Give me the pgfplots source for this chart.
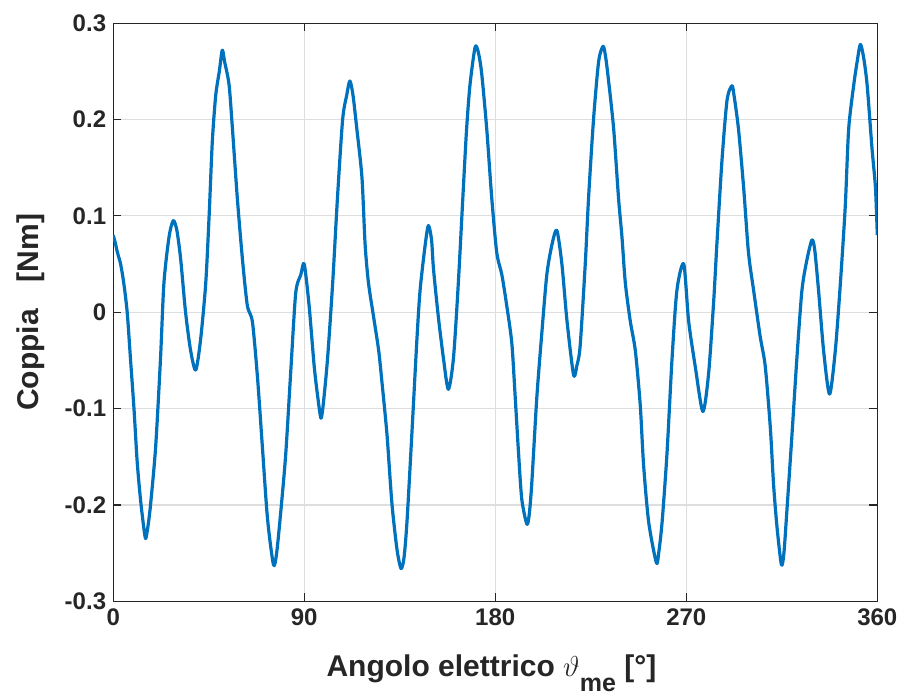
\documentclass[border=0pt]{standalone}
\usepackage{fontspec}
\setmainfont{Liberation Sans}
\usepackage{pgfplots}
\pgfplotsset{compat=1.18}
\definecolor{mblue}{rgb}{0,0.447,0.741}
\definecolor{mtext}{rgb}{0.15,0.15,0.15}
\definecolor{mgrid}{rgb}{0.87,0.87,0.87}
\begin{document}
\begin{tikzpicture}
\begin{axis}[
  width=382pt, height=289pt, scale only axis,
  xmin=0, xmax=360, ymin=-0.3, ymax=0.3,
  xtick={0,90,180,270,360},
  ytick={-0.3,-0.2,-0.1,0,0.1,0.2,0.3},
  yticklabels={-0.3,-0.2,-0.1,0,0.1,0.2,0.3},
  xticklabels={0,90,180,270,360},
  grid=major,
  major grid style={mgrid, line width=0.6pt},
  axis line style={mtext, line width=0.6pt},
  tick style={mtext, line width=0.6pt},
  tick align=inside,
  major tick length=4pt,
  tick label style={font=\fontsize{12}{14}\selectfont\bfseries, text=mtext},
  /pgf/number format/assume math mode=true,
  xlabel={Angolo elettrico $\vartheta$\raisebox{-0.5em}{\fontsize{12.5}{14}\selectfont\bfseries me} [°]},
  ylabel={Coppia\hspace{0.9em}[Nm]},
  xlabel style={font=\fontsize{15}{18}\selectfont\bfseries, text=mtext, at={(axis description cs:0.495,-0.125)}, anchor=center},
  ylabel style={font=\fontsize{15}{18}\selectfont\bfseries, text=mtext, at={(axis description cs:-0.108,0.5)}, anchor=center, rotate=0},
]
\addplot[mblue, line width=1.6pt, line join=round, smooth, tension=0.45] table {
x y
0 0.08
1 0.072
2 0.062
3.5 0.05
5 0.03
6.6 0.0
8.2 -0.05
9.8 -0.10
11.3 -0.155
12.9 -0.195
14.5 -0.225
15.3 -0.235
16.2 -0.225
17.6 -0.20
20 -0.14
22.3 -0.048
23.9 0.03
26.3 0.078
28.3 0.095
30 0.085
31.8 0.055
34.1 0.0
36.5 -0.04
38.9 -0.06
41.2 -0.028
43.6 0.03
45.2 0.10
46.7 0.177
48.3 0.225
50 0.25
51.4 0.272
52.5 0.26
54.6 0.236
56.2 0.19
58.5 0.118
60.9 0.055
63.2 0.007
65.6 -0.01
68 -0.068
70.3 -0.14
72.7 -0.214
75.5 -0.262
77 -0.25
79 -0.206
81.3 -0.147
83.7 -0.06
86 0.02
88.4 0.039
90 0.05
92.3 0.007
94.7 -0.056
96.5 -0.09
97.9 -0.11
99 -0.095
101 -0.048
103.4 0.03
105.7 0.12
108.1 0.2
110 0.225
111.5 0.24
113 0.225
114.8 0.19
117.2 0.14
118.7 0.07
120.3 0.03
122.7 -0.005
125.1 -0.04
126.6 -0.072
129 -0.127
131.3 -0.198
133.7 -0.246
135.6 -0.266
137 -0.255
138.4 -0.218
140.7 -0.127
143.1 -0.028
144.6 0.023
147 0.07
148.5 0.09
150 0.075
150.9 0.045
153.2 -0.005
155.6 -0.048
157.9 -0.08
160.3 -0.048
162.6 0.03
165 0.13
166.5 0.19
168.1 0.236
170.5 0.275
172 0.27
173.6 0.248
176 0.19
178.3 0.12
180.7 0.062
183.1 0.039
185.4 0.007
187.8 -0.032
189.4 -0.088
191 -0.147
192.5 -0.194
194.9 -0.22
196 -0.21
197.2 -0.178
199.6 -0.088
202 -0.02
204.3 0.039
206.7 0.07
209 0.085
211.4 0.05
213.8 -0.009
216.9 -0.065
218.5 -0.055
220 -0.035
222.4 0.05
224 0.12
226.3 0.2
228.7 0.26
230.8 0.276
232 0.265
233.4 0.24
235.8 0.19
238.1 0.118
239.7 0.078
241.3 0.03
243.6 -0.009
246 -0.04
248.3 -0.096
249.9 -0.159
252.3 -0.218
255.9 -0.26
257 -0.25
258.6 -0.218
260.9 -0.147
263.3 -0.048
265.6 0.023
268.8 0.05
271.1 -0.009
274.2 -0.056
277.8 -0.103
280.5 -0.064
282.9 0.011
284.4 0.07
286.8 0.157
289.2 0.22
291.5 0.235
292.5 0.225
294.6 0.19
297 0.13
299.3 0.062
301.7 0.023
304.8 -0.025
307.2 -0.056
309.6 -0.12
311.1 -0.178
312.7 -0.222
314.8 -0.262
316 -0.25
317.4 -0.206
319.8 -0.127
322.1 -0.048
324.5 0.023
326.9 0.055
329.2 0.075
330.5 0.065
332.3 0.023
334.7 -0.04
337.5 -0.085
340.2 -0.04
342.6 0.03
344.9 0.11
346.5 0.19
348.9 0.236
350.5 0.26
352 0.278
353.5 0.265
355.2 0.236
357.5 0.17
359.1 0.13
360 0.08
};
\end{axis}
\path ([xshift=-5pt]current bounding box.west);
\path ([yshift=4pt]current bounding box.north);
\end{tikzpicture}
\end{document}
